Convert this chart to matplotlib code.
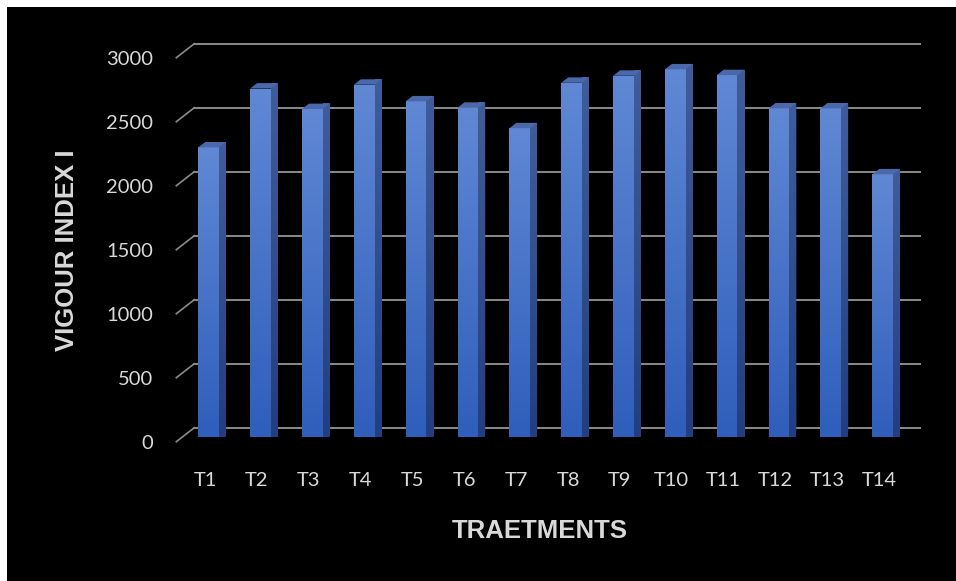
import numpy as np
import matplotlib
matplotlib.use('Agg')
import matplotlib.pyplot as plt
from matplotlib.patches import Polygon, Rectangle
from matplotlib.colors import LinearSegmentedColormap

# ── Data ──────────────────────────────────────────────────────────
treatments = ['T1', 'T2', 'T3', 'T4', 'T5', 'T6', 'T7',
              'T8', 'T9', 'T10', 'T11', 'T12', 'T13', 'T14']
vigour = [2260, 2720, 2560, 2750, 2620, 2570, 2410,
          2765, 2820, 2870, 2825, 2565, 2565, 2050]
y_ticks = [0, 500, 1000, 1500, 2000, 2500, 3000]

# ── Style ─────────────────────────────────────────────────────────
C_BG = 'black'; C_GRID = '#8A8A8A'; C_TEXT = '#D9D9D9'
front_cmap = LinearSegmentedColormap.from_list('front', ['#2F5EBB', '#6088D4'])
side_cmap = LinearSegmentedColormap.from_list('side', ['#233E80', '#405D9A'])
C_TOP = '#4B69AA'

W, H = 956, 581
fig = plt.figure(figsize=(W / 100, H / 100), dpi=100, facecolor='white')
fig.add_artist(Rectangle((7 / W, 0), 1, 1 - 7 / H, transform=fig.transFigure,
                         facecolor=C_BG, edgecolor='none', zorder=-10))

# axes = plane of the bar front faces
ax_l, ax_b, ax_w, ax_h = 182.7, H - 436.7, 725.9, 384.0
ax = fig.add_axes([ax_l / W, ax_b / H, ax_w / W, ax_h / H])
ax.axis('off')

n = len(treatments)
x = np.arange(n)
xlim = (-0.5, n - 0.5)
ylim = (0, 3000)
ux = (xlim[1] - xlim[0]) / ax_w   # data units per pixel
uy = (ylim[1] - ylim[0]) / ax_h

bx, by = 11.6 * ux, 9.0 * uy      # back wall offset
fx, fy = -6.4 * ux, -5.0 * uy     # front of floor offset
sx, sy = 7.0 * ux, 5.4 * uy       # bar depth

# gridlines on back wall + diagonal ticks on the side wall
for v in y_ticks:
    ax.plot([xlim[0] + bx, xlim[1] + bx], [v + by, v + by], color=C_GRID,
            lw=1.4, clip_on=False, zorder=1)
    ax.plot([xlim[0] + fx, xlim[0] + bx], [v + fy, v + by], color=C_GRID,
            lw=1.2, clip_on=False, zorder=1)
    ax.text(xlim[0] - 29.4 * ux, v - 7 * uy, f'{v}', ha='right', va='center',
            color=C_TEXT, fontsize=14.5, family='Lato')

# 3-D looking columns
bw = 0.40
grad = np.linspace(0, 1, 256).reshape(-1, 1)
bars = ax.bar(x, vigour, width=bw, color='#4472C4', zorder=3)
for xi, v, b in zip(x, vigour, bars):
    im = ax.imshow(grad, cmap=front_cmap, origin='lower', aspect='auto',
                   extent=[xi - bw / 2, xi + bw / 2, 0, v], zorder=3.1,
                   interpolation='bilinear')
    im.set_clip_path(b)
    r = xi + bw / 2
    side = Polygon([(r, 0), (r + sx, sy), (r + sx, v + sy), (r, v)],
                   closed=True, facecolor='#2E4C8C', edgecolor='none',
                   zorder=3, clip_on=False)
    ax.add_patch(side)
    im2 = ax.imshow(grad, cmap=side_cmap, origin='lower', aspect='auto',
                    extent=[r, r + sx, 0, v + sy], zorder=3.1,
                    interpolation='bilinear', clip_on=False)
    im2.set_clip_path(side)
    top = Polygon([(xi - bw / 2, v), (r, v), (r + sx, v + sy),
                   (xi - bw / 2 + sx, v + sy)], closed=True,
                  facecolor=C_TOP, edgecolor='none', zorder=3.2, clip_on=False)
    ax.add_patch(top)

ax.set_xlim(*xlim)
ax.set_ylim(*ylim)

for xi, lab in zip(x, treatments):
    ax.text(xi - 3.5 * ux, -44.3 * uy, lab, ha='center', va='center',
            color=C_TEXT, fontsize=14.5, family='Lato')

fig.text(67 / W, 1 - 250 / H, 'VIGOUR INDEX I', rotation=90, ha='center',
         va='center', color=C_TEXT, fontsize=18.5, fontweight='bold',
         family='Liberation Sans')
fig.text(540 / W, 1 - 531 / H, 'TRAETMENTS', ha='center', va='center',
         color=C_TEXT, fontsize=18.5, fontweight='bold',
         family='Liberation Sans')

fig.savefig('out.png', dpi=100, facecolor='white')
